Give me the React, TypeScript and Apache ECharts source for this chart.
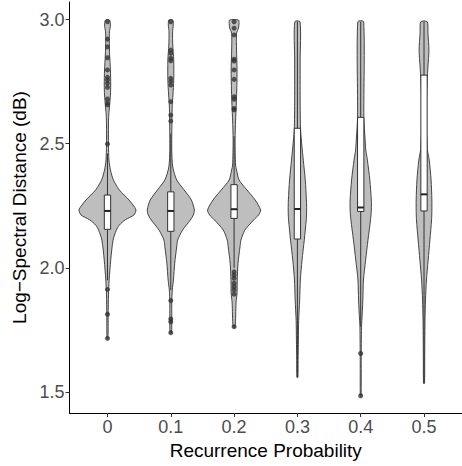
import React, { useEffect, useRef } from "react";
import * as echarts from "echarts";

const CATEGORIES = ["0", "0.1", "0.2", "0.3", "0.4", "0.5"];
const Y_TICKS = [1.5, 2.0, 2.5, 3.0];

// violin profiles: [value, density (relative half width)]
const VIOLIN_0 = [
  [2.998, 2.0], [2.978, 3.0], [2.95, 2.0], [2.917, 1.8], [2.857, 2.2], [2.797, 3.0],
  [2.736, 3.3], [2.696, 3.0], [2.656, 2.2], [2.615, 1.3], [2.575, 1.0], [2.495, 1.0],
  [2.434, 1.5], [2.394, 3.0], [2.354, 6.0], [2.314, 12.0], [2.273, 22.0], [2.253, 26.0],
  [2.233, 29.0], [2.213, 27.0], [2.193, 18.0], [2.172, 12.0], [2.152, 9.0], [2.112, 5.7],
  [2.031, 3.3], [1.951, 1.7], [1.891, 1.0], [1.811, 0.7], [1.717, 0.5],
];
const VIOLIN_1 = [
  [2.998, 2.0], [2.978, 2.5], [2.95, 1.8], [2.897, 2.0], [2.837, 3.0], [2.756, 3.0],
  [2.696, 2.2], [2.656, 1.5], [2.595, 1.2], [2.474, 1.0], [2.406, 2.0], [2.354, 6.0],
  [2.314, 13.5], [2.273, 21.0], [2.233, 24.0], [2.213, 23.0], [2.193, 20.0], [2.152, 12.0],
  [2.112, 7.0], [2.084, 6.0], [2.019, 4.0], [1.951, 2.7], [1.911, 1.5], [1.859, 1.0],
  [1.739, 0.8],
];
const VIOLIN_2 = [
  [2.998, 4.5], [2.985, 5.0], [2.965, 4.5], [2.945, 2.5], [2.877, 2.5], [2.797, 3.0],
  [2.716, 2.7], [2.636, 2.0], [2.595, 1.5], [2.515, 1.0], [2.414, 1.5], [2.394, 2.5],
  [2.354, 5.0], [2.314, 13.0], [2.273, 21.5], [2.233, 27.0], [2.213, 25.0], [2.193, 20.0],
  [2.152, 11.0], [2.112, 7.0], [2.084, 6.0], [2.019, 4.0], [1.951, 3.2], [1.899, 3.0],
  [1.859, 2.0], [1.763, 1.0],
];
const VIOLIN_3 = [
  [2.991, 2.7], [2.837, 2.8], [2.676, 2.8], [2.555, 3.2], [2.515, 4.0], [2.474, 5.0],
  [2.434, 6.0], [2.354, 8.0], [2.273, 9.2], [2.233, 9.4], [2.193, 9.0], [2.112, 7.0],
  [2.031, 4.7], [1.951, 3.0], [1.871, 2.3], [1.789, 1.3], [1.709, 1.0], [1.628, 0.7],
  [1.559, 0.5],
];
const VIOLIN_4 = [
  [2.991, 3.0], [2.607, 3.2], [2.515, 4.5], [2.474, 5.2], [2.434, 6.8], [2.354, 9.3],
  [2.273, 10.8], [2.233, 10.8], [2.193, 10.0], [2.112, 7.4], [2.031, 5.0], [1.951, 2.8],
  [1.871, 2.2], [1.789, 1.2], [1.761, 0.8], [1.628, 0.5], [1.485, 0.4],
];
const VIOLIN_5 = [
  [2.991, 3.3], [2.946, 4.0], [2.877, 5.0], [2.809, 4.0], [2.756, 3.2], [2.676, 2.5],
  [2.543, 2.5], [2.515, 3.0], [2.474, 3.5], [2.434, 5.3], [2.354, 7.2], [2.273, 8.0],
  [2.233, 8.0], [2.193, 7.7], [2.112, 6.0], [2.031, 4.2], [1.951, 2.5], [1.871, 1.5],
  [1.789, 1.0], [1.709, 0.8], [1.628, 0.7], [1.535, 0.5],
];
const VIOLINS = [VIOLIN_0, VIOLIN_1, VIOLIN_2, VIOLIN_3, VIOLIN_4, VIOLIN_5];

// box statistics
const WHISKER_LOW = [1.95, 1.91, 2.0, 1.559, 1.763, 1.535];
const Q1 = [2.155, 2.147, 2.199, 2.116, 2.227, 2.229];
const MEDIAN = [2.229, 2.229, 2.236, 2.237, 2.243, 2.296];
const Q3 = [2.293, 2.306, 2.335, 2.562, 2.606, 2.776];
const WHISKER_HIGH = [2.46, 2.54, 2.53, 2.991, 2.991, 2.991];

// outliers
const OUTLIERS_0 = [2.991, 2.921, 2.89, 2.846, 2.797, 2.767, 2.756, 2.743, 2.727, 2.68, 2.663, 2.656, 2.499, 1.913, 1.813, 1.716];
const OUTLIERS_1 = [2.991, 2.877, 2.864, 2.844, 2.834, 2.763, 2.75, 2.736, 2.669, 2.615, 2.591, 1.868, 1.794, 1.783, 1.739];
const OUTLIERS_2 = [2.991, 2.965, 2.938, 2.84, 2.833, 2.797, 2.759, 2.689, 2.679, 2.642, 2.636, 1.984, 1.971, 1.958, 1.938, 1.924, 1.911, 1.894, 1.763];
const OUTLIERS_3: number[] = [];
const OUTLIERS_4 = [1.655, 1.485];
const OUTLIERS_5: number[] = [];
const OUTLIERS = [OUTLIERS_0, OUTLIERS_1, OUTLIERS_2, OUTLIERS_3, OUTLIERS_4, OUTLIERS_5];

const DENSITY_SCALE = 1 / 64.5; // density unit -> category units
const BOX_WIDTH = 0.1;
const FONT = '"Liberation Sans", Arial, Helvetica, sans-serif';

export default function App() {
  const ref = useRef<HTMLDivElement>(null);
  useEffect(() => {
    if (!ref.current) return;
    const chart = echarts.init(ref.current, undefined, { renderer: "svg" });

    const outlierData: number[][] = [];
    OUTLIERS.forEach((arr, i) => arr.forEach((v) => outlierData.push([i, v])));

    const option: any = {
      animation: false,
      backgroundColor: "#ffffff",
      grid: { left: 69.5, top: 2, bottom: 53, width: 400, containLabel: false },
      xAxis: {
        type: "value",
        min: -0.6,
        max: 5.6,
        name: "Recurrence Probability",
        nameLocation: "middle",
        nameGap: 28,
        nameTextStyle: { color: "#000", fontSize: 19, fontFamily: FONT },
        splitLine: { show: false },
        axisLine: { show: true, onZero: false, lineStyle: { color: "#000", width: 1 } },
        axisTick: { show: true, length: 4, lineStyle: { color: "#333", width: 1 }, customValues: [0, 1, 2, 3, 4, 5] },
        axisLabel: {
          color: "#4D4D4D",
          fontSize: 18,
          fontFamily: FONT,
          margin: 5,
          customValues: [0, 1, 2, 3, 4, 5],
          formatter: (v: number) => CATEGORIES[Math.round(v)] ?? "",
        },
      },
      yAxis: {
        type: "value",
        min: 1.4154,
        max: 3.0705,
        name: "Log\u2212Spectral Distance (dB)",
        nameLocation: "middle",
        nameGap: 27,
        nameTextStyle: { color: "#000", fontSize: 19, fontFamily: FONT },
        splitLine: { show: false },
        axisLine: { show: true, onZero: false, lineStyle: { color: "#000", width: 1 } },
        axisTick: { show: true, length: 4, lineStyle: { color: "#333", width: 1 }, customValues: Y_TICKS },
        axisLabel: {
          color: "#4D4D4D",
          fontSize: 18,
          fontFamily: FONT,
          margin: 5,
          customValues: Y_TICKS,
          formatter: (v: number) => v.toFixed(1),
        },
      },
      series: [
        {
          type: "custom",
          name: "violin",
          data: VIOLINS.map((_, i) => [i, MEDIAN[i]]),
          renderItem: (params: any, api: any) => {
            const i = params.dataIndex;
            const prof = VIOLINS[i];
            const unit = api.size([1, 0])[0];
            const right = prof.map(([v, d]) => {
              const c = api.coord([i, v]);
              return [c[0] + d * DENSITY_SCALE * unit, c[1]];
            });
            const left = prof
              .slice()
              .reverse()
              .map(([v, d]) => {
                const c = api.coord([i, v]);
                return [c[0] - d * DENSITY_SCALE * unit, c[1]];
              });
            return {
              type: "polygon",
              shape: { points: right.concat(left), smooth: 0.25 },
              style: { fill: "#BEBEBE", stroke: "#333333", lineWidth: 0.9 },
            };
          },
          z: 1,
        },
        {
          type: "custom",
          name: "box",
          data: VIOLINS.map((_, i) => [i, MEDIAN[i]]),
          renderItem: (params: any, api: any) => {
            const i = params.dataIndex;
            const unit = api.size([1, 0])[0];
            const hw = (BOX_WIDTH / 2) * unit;
            const lo = api.coord([i, WHISKER_LOW[i]]);
            const q1 = api.coord([i, Q1[i]]);
            const md = api.coord([i, MEDIAN[i]]);
            const q3 = api.coord([i, Q3[i]]);
            const hi = api.coord([i, WHISKER_HIGH[i]]);
            const x = q1[0];
            const lineStyle = { stroke: "#333333", lineWidth: 1 };
            return {
              type: "group",
              children: [
                { type: "line", shape: { x1: x, y1: q3[1], x2: x, y2: hi[1] }, style: lineStyle },
                { type: "line", shape: { x1: x, y1: q1[1], x2: x, y2: lo[1] }, style: lineStyle },
                {
                  type: "rect",
                  shape: { x: x - hw, y: q3[1], width: 2 * hw, height: q1[1] - q3[1] },
                  style: { fill: "#ffffff", stroke: "#333333", lineWidth: 1 },
                },
                { type: "line", shape: { x1: x - hw, y1: md[1], x2: x + hw, y2: md[1] }, style: { stroke: "#222222", lineWidth: 2 } },
              ],
            };
          },
          z: 2,
        },
        {
          type: "scatter",
          name: "outliers",
          data: outlierData,
          symbol: "circle",
          symbolSize: 5,
          itemStyle: { color: "#333333" },
          z: 3,
        },
      ],
    };
    chart.setOption(option);
    return () => chart.dispose();
  }, []);
  return <div ref={ref} style={{ position: "absolute", left: 0, top: 0, width: 462, height: 466 }} />;
}
